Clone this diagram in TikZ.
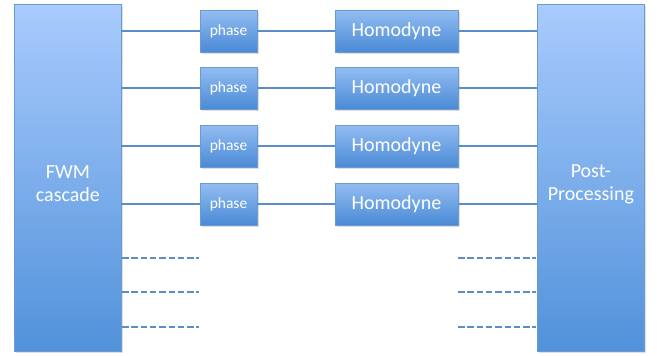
\documentclass[tikz,border=0pt]{standalone}
\usepackage{fontspec}
\setmainfont{Carlito}
\usetikzlibrary{shadows}
\definecolor{bigtop}{HTML}{A9CBFD}
\definecolor{bigbot}{HTML}{5192DA}
\definecolor{smtop}{HTML}{93BDF2}
\definecolor{smbot}{HTML}{4A8AD5}
\definecolor{edgec}{HTML}{6C9BD0}
\definecolor{linec}{HTML}{5B8EC8}
\tikzset{
  bigbox/.style={draw=edgec, line width=0.8pt, top color=bigtop, bottom color=bigbot,
    minimum width=107pt, minimum height=347pt, inner sep=0pt, anchor=north west,
    drop shadow={opacity=0.25, shadow xshift=1.5pt, shadow yshift=-1.5pt}},
  bigtext/.style={text=white, font=\fontsize{20}{23}\selectfont, align=center, inner sep=0pt},
  phasebox/.style={draw=edgec, line width=0.8pt, top color=smtop, bottom color=smbot,
    minimum width=57pt, minimum height=42pt, inner sep=0pt,
    text=white, font=\fontsize{15.5}{18}\selectfont,
    drop shadow={opacity=0.25, shadow xshift=1.5pt, shadow yshift=-1.5pt}},
  homobox/.style={phasebox, minimum width=123pt, font=\fontsize{20}{24}\selectfont},
  conn/.style={draw=linec, line width=2.4pt},
  dconn/.style={draw=linec, line width=2.4pt, dash pattern=on 6.5pt off 2.8pt},
}
\begin{document}
\begin{tikzpicture}[x=1pt,y=-1pt]
\useasboundingbox (0,0) rectangle (657,356);
\node[bigbox] (fwm) at (14,4) {};
\node[bigbox] (post) at (537,4) {};
\node[bigtext] (fwmt) at ([yshift=-6pt]fwm.center) {FWM\\cascade};
\node[bigtext] (postt) at ([yshift=-6pt]post.center) {Post-\\Processing};
\foreach \i/\y in {1/31,2/88,3/146,4/204}{
  \node[phasebox] (p\i) at (228.5,\y) {phase};
  \node[homobox] (h\i) at (396.5,\y) {Homodyne};
  \coordinate (l\i) at (121,\y);
  \coordinate (r\i) at (537,\y);
  \draw[conn] (l\i) -- (p\i.west);
  \draw[conn] (p\i.east) -- (h\i.west);
  \draw[conn] (h\i.east) -- (r\i);
}
\foreach \i/\y in {1/258,2/292,3/327}{
  \coordinate (dl\i) at (122,\y);
  \coordinate (dle\i) at (199,\y);
  \coordinate (dr\i) at (458,\y);
  \coordinate (dre\i) at (536,\y);
  \draw[dconn] (dl\i) -- (dle\i);
  \draw[dconn] (dr\i) -- (dre\i);
}
\end{tikzpicture}
\end{document}
